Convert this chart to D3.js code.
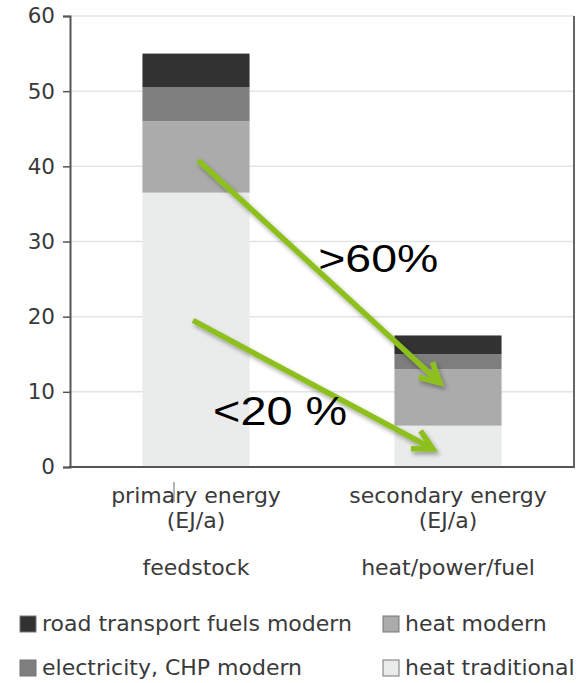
<!DOCTYPE html>
<html>
<head>
<meta charset="utf-8">
<script src="https://cdn.jsdelivr.net/npm/d3@7"></script>
<style>
  body { margin: 0; background: #fff; }
  svg { display: block; }
  text { font-family: "DejaVu Sans", Verdana, sans-serif; fill: #3a3a3a; }
</style>
</head>
<body>
<div id="chart"></div>
<script>
// categories and series (EJ/a)
const categories = ["primary energy", "secondary energy"];
const subLabels = ["feedstock", "heat/power/fuel"];
const heatTraditional = [36.5, 5.5];
const heatModern = [9.5, 7.5];
const electricityCHP = [4.5, 2.0];
const roadTransport = [4.5, 2.5];
const yTicks = [0, 10, 20, 30, 40, 50, 60];

const seriesNames = ["heat traditional", "heat modern", "electricity, CHP modern", "road transport fuels modern"];
const seriesColors = ["#eaeceb", "#ababab", "#7e7e7e", "#323232"];
const legendOrder = ["road transport fuels modern", "heat modern", "electricity, CHP modern", "heat traditional"];

// annotations: x in category-index units (0 = first bar, 1 = second bar), y in EJ/a
const arrows = [
  { x1: 0.008, y1: 40.8, x2: 0.968, y2: 11.2 },
  { x1: -0.012, y1: 19.5, x2: 0.94, y2: 2.4 }
];
const notes = [
  { text: ">60%", x: 0.485, y: 25.9, size: 38, len: 120 },
  { text: "<20 %", x: 0.068, y: 5.6, size: 41, len: 134 }
];

const width = 585, height = 683;
const svg = d3.select("#chart").append("svg")
  .attr("width", width)
  .attr("height", height);

const defs = svg.append("defs");
defs.append("filter").attr("id", "shadow")
  .attr("x", "-20%").attr("y", "-20%").attr("width", "140%").attr("height", "140%")
  .append("feDropShadow")
  .attr("dx", 2).attr("dy", 3).attr("stdDeviation", 2)
  .attr("flood-color", "#000").attr("flood-opacity", 0.35);

const x = d3.scaleBand()
  .domain(categories)
  .range([70, 574])
  .paddingInner(0.575)
  .paddingOuter(0.2875);

const y = d3.scaleLinear()
  .domain([0, 60])
  .range([467, 16]);

const bw = x.bandwidth();
const xi = d3.scaleLinear()
  .domain([0, 1])
  .range([x(categories[0]) + bw / 2, x(categories[1]) + bw / 2]);

// gridlines
svg.append("g")
  .selectAll("line")
  .data(yTicks.filter(d => d > 0))
  .enter().append("line")
  .attr("x1", 70).attr("x2", 574)
  .attr("y1", d => y(d)).attr("y2", d => y(d))
  .attr("stroke", "#e4e4e4")
  .attr("stroke-width", 1.5);

// stacked bars
const rows = categories.map((c, i) => ({
  cat: c,
  "heat traditional": heatTraditional[i],
  "heat modern": heatModern[i],
  "electricity, CHP modern": electricityCHP[i],
  "road transport fuels modern": roadTransport[i]
}));
const stacked = d3.stack().keys(seriesNames)(rows);

svg.append("g")
  .selectAll("g")
  .data(stacked)
  .enter().append("g")
  .attr("fill", (d, i) => seriesColors[i])
  .selectAll("rect")
  .data(d => d)
  .enter().append("rect")
  .attr("x", d => x(d.data.cat))
  .attr("width", bw)
  .attr("y", d => y(d[1]))
  .attr("height", d => y(d[0]) - y(d[1]));

// y axis
const yAxis = svg.append("g")
  .attr("transform", "translate(70,0)")
  .call(d3.axisLeft(y).tickValues(yTicks).tickSize(7).tickPadding(8));
yAxis.select(".domain").attr("stroke", "#555").attr("stroke-width", 2);
yAxis.selectAll(".tick line").attr("stroke", "#555").attr("stroke-width", 1.5);
yAxis.selectAll(".tick text")
  .style("font-family", '"DejaVu Sans", Verdana, sans-serif')
  .style("font-size", "21.5px")
  .attr("fill", "#3a3a3a");

// bottom axis line and right frame
svg.append("line")
  .attr("x1", 69).attr("x2", 575)
  .attr("y1", y(0)).attr("y2", y(0))
  .attr("stroke", "#555").attr("stroke-width", 2);
svg.append("line")
  .attr("x1", 574).attr("x2", 574)
  .attr("y1", y(60)).attr("y2", y(0))
  .attr("stroke", "#666").attr("stroke-width", 2);

// category labels
const labels = svg.append("g")
  .selectAll("g")
  .data(categories)
  .enter().append("g")
  .attr("transform", d => `translate(${x(d) + bw / 2},0)`);
labels.append("text")
  .attr("text-anchor", "middle").attr("y", 503)
  .style("font-size", "22px")
  .text(d => d);
labels.append("text")
  .attr("text-anchor", "middle").attr("y", 528)
  .style("font-size", "22px")
  .text("(EJ/a)");
labels.append("text")
  .attr("text-anchor", "middle").attr("y", 575)
  .style("font-size", "22px")
  .text((d, i) => subLabels[i]);

// stray cursor mark seen in the original
svg.append("line")
  .attr("x1", x(categories[0]) + bw / 2 - 22).attr("x2", x(categories[0]) + bw / 2 - 22)
  .attr("y1", 482).attr("y2", 502)
  .attr("stroke", "#666").attr("stroke-width", 1);

// arrows
function arrowPath(a) {
  const sx = xi(a.x1), sy = y(a.y1), ex = xi(a.x2), ey = y(a.y2);
  const ang = Math.atan2(ey - sy, ex - sx);
  const head = 22, spread = Math.PI / 6.5;
  const p1 = [ex - head * Math.cos(ang - spread), ey - head * Math.sin(ang - spread)];
  const p2 = [ex - head * Math.cos(ang + spread), ey - head * Math.sin(ang + spread)];
  return `M${sx},${sy}L${ex},${ey}M${p1[0]},${p1[1]}L${ex},${ey}L${p2[0]},${p2[1]}`;
}
svg.append("g")
  .attr("filter", "url(#shadow)")
  .selectAll("path")
  .data(arrows)
  .enter().append("path")
  .attr("d", arrowPath)
  .attr("fill", "none")
  .attr("stroke", "#8dc01c")
  .attr("stroke-width", 5.5)
  .attr("stroke-linejoin", "miter");

// percentage notes
svg.append("g")
  .selectAll("text")
  .data(notes)
  .enter().append("text")
  .attr("x", d => xi(d.x))
  .attr("y", d => y(d.y))
  .attr("textLength", d => d.len)
  .attr("lengthAdjust", "spacingAndGlyphs")
  .style("font-family", '"Liberation Sans", Arial, sans-serif')
  .style("font-size", d => d.size + "px")
  .style("fill", "#000")
  .text(d => d.text);

// legend
const legend = svg.append("g")
  .selectAll("g")
  .data(legendOrder)
  .enter().append("g")
  .attr("transform", (d, i) => `translate(${i % 2 === 0 ? 20 : 383},${i < 2 ? 616 : 660})`);
legend.append("rect")
  .attr("width", 16).attr("height", 16)
  .attr("fill", d => seriesColors[seriesNames.indexOf(d)])
  .attr("stroke", "#777").attr("stroke-width", 1);
legend.append("text")
  .attr("x", 22).attr("y", 15)
  .style("font-size", "22px")
  .text(d => d);
</script>
</body>
</html>
